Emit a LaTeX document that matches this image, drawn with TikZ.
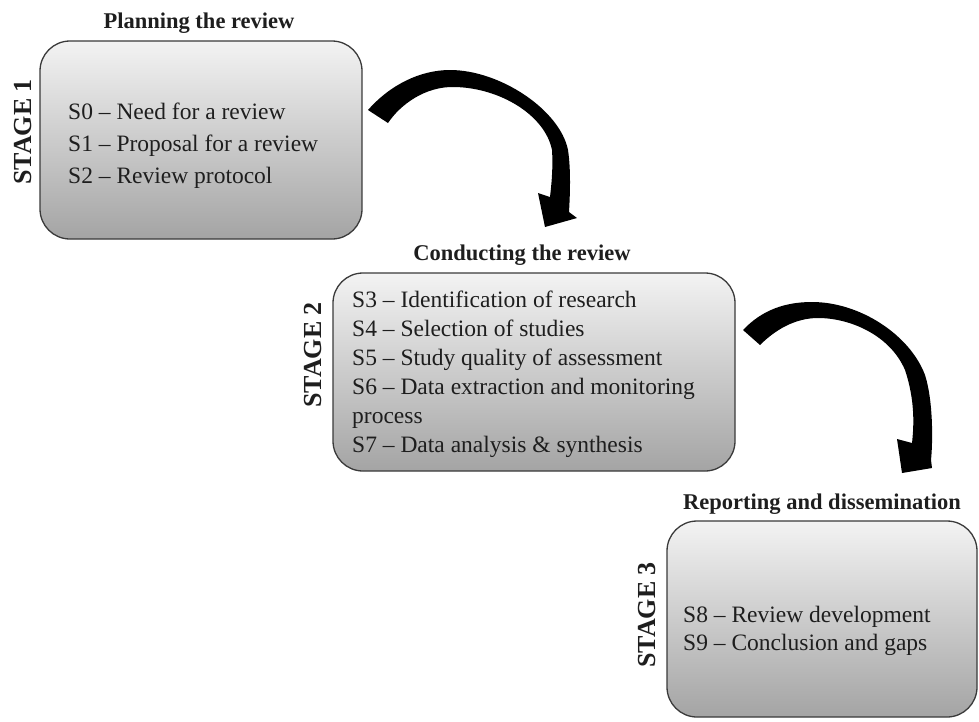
\documentclass[tikz,border=0pt]{standalone}
\usepackage{fontspec}
\setmainfont{Liberation Serif}
\definecolor{boxtop}{HTML}{F3F3F3}
\definecolor{boxmid}{HTML}{DEDEDE}
\definecolor{boxbot}{HTML}{A4A4A4}
\definecolor{boxline}{HTML}{3A3A3A}
\definecolor{inkcol}{HTML}{1E1E1E}
\tikzset{
  stagebox/.style={draw=boxline, line width=1.3pt, rounded corners=30pt,
    top color=boxtop, middle color=boxmid, bottom color=boxbot,
    inner sep=0pt},
  item/.style={anchor=base west, inner sep=0pt, text=inkcol,
    font=\fontsize{23.5}{28}\selectfont},
  title/.style={anchor=base, inner sep=0pt, text=inkcol,
    font=\fontsize{22.5}{27}\selectfont\bfseries},
  stagelabel/.style={rotate=90, inner sep=0pt, text=inkcol,
    font=\fontsize{26}{30}\selectfont\bfseries},
  bend arrow/.style={fill=black, draw=none}
}
\begin{document}
\begin{tikzpicture}[x=1pt, y=-1pt]
\useasboundingbox (0,0) rectangle (979,721);

% ---------- Stage 1 ----------
\node[stagebox, minimum width=322pt, minimum height=198pt] (box1) at (201,140) {};
\node[title] (t1) at (199,28) {Planning the review};
\node[stagelabel] (st1) at (23,132) {STAGE 1};
\node[item] (s0) at (68,119) {S0 – Need for a review};
\node[item] (s1) at (68,151) {S1 – Proposal for a review};
\node[item] (s2) at (68,183) {S2 – Review protocol};

% ---------- Stage 2 ----------
\node[stagebox, minimum width=402pt, minimum height=198pt] (box2) at (534,372) {};
\node[title] (t2) at (522,260) {Conducting the review};
\node[stagelabel] (st2) at (313,355) {STAGE 2};
\node[item] (s3) at (352,307) {S3 – Identification of research};
\node[item] (s4) at (352,336) {S4 – Selection of studies};
\node[item] (s5) at (352,365) {S5 – Study quality of assessment};
\node[item] (s6) at (352,394) {S6 – Data extraction and monitoring};
\node[item] (s6b) at (352,423) {process};
\node[item] (s7) at (352,452) {S7 – Data analysis \& synthesis};

% ---------- Stage 3 ----------
\node[stagebox, minimum width=310pt, minimum height=196pt] (box3) at (822,619) {};
\node[title] (t3) at (822,509) {Reporting and dissemination};
\node[stagelabel] (st3) at (647,615) {STAGE 3};
\node[item] (s8) at (683,622) {S8 – Review development};
\node[item] (s9) at (683,650) {S9 – Conclusion and gaps};

% ---------- curved block arrows between stages ----------
\fill[bend arrow]
  (368,110) .. controls (390,85) and (420,70) .. (450,70)
  .. controls (500,70) and (560,110) .. (568,150)
  .. controls (571,170) and (570,195) .. (569,212)
  -- (577,218) -- (545,227) -- (538,193) -- (550,197)
  .. controls (552,180) and (553,165) .. (552,150)
  .. controls (545,115) and (500,88) .. (455,87)
  .. controls (425,86) and (400,105) .. (388,123) -- cycle;

\fill[bend arrow]
  (743,330) .. controls (762,310) and (785,302) .. (812,302)
  .. controls (860,302) and (910,335) .. (925,375)
  .. controls (933,400) and (933,440) .. (931,460)
  -- (932,468) -- (902,473) -- (897,439) -- (912,443)
  .. controls (914,425) and (915,400) .. (905,370)
  .. controls (890,335) and (850,318) .. (818,318)
  .. controls (795,318) and (775,330) .. (760,345) -- cycle;
\end{tikzpicture}
\end{document}
